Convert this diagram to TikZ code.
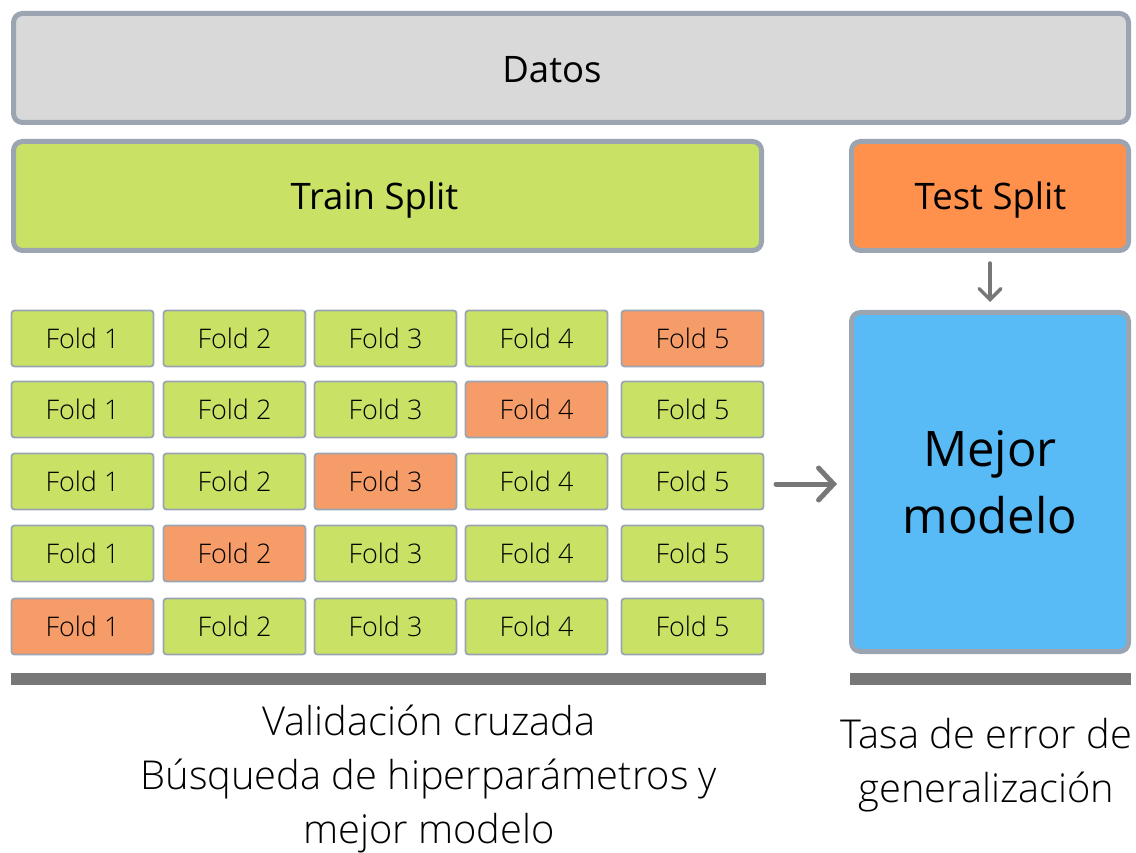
\documentclass[tikz,border=0pt]{standalone}
\usepackage{fontspec}
\setmainfont{Open Sans}
\newfontfamily\lightfont{Open Sans Light}
\usetikzlibrary{arrows.meta}
\definecolor{bordergray}{HTML}{9AA5B1}
\definecolor{datosfill}{HTML}{D9D9D9}
\definecolor{trainfill}{HTML}{C9E265}
\definecolor{testfill}{HTML}{FF914D}
\definecolor{foldorange}{HTML}{F59C69}
\definecolor{bluefill}{HTML}{58BBF6}
\definecolor{darkgray}{HTML}{777777}
\tikzset{
  bigbox/.style={draw=bordergray, line width=5pt, rounded corners=9pt, inner sep=0pt},
  boxtext/.style={anchor=base, font=\fontsize{36.5}{42}\selectfont, inner sep=0pt},
  foldbox/.style={draw=bordergray, line width=1.8pt, rounded corners=3pt, minimum width=142pt, minimum height=56pt, inner sep=0pt, font=\lightfont\fontsize{27}{32}\selectfont},
  green/.style={fill=trainfill},
  orange/.style={fill=foldorange},
  bar/.style={fill=darkgray, draw=none},
  conn/.style={draw=darkgray, line cap=round},
  caption/.style={anchor=base, align=center, font=\lightfont\fontsize{39.8}{54}\selectfont},
}
\begin{document}
\begin{tikzpicture}[x=1pt,y=-1pt]
\useasboundingbox (0,0) rectangle (1136,853);
% top boxes
\node[bigbox, fill=datosfill, minimum width=1115pt, minimum height=109pt] (datos) at (571,68) {};
\node[boxtext] (datostxt) at (552,83) {Datos};
\node[bigbox, fill=trainfill, minimum width=748pt, minimum height=109pt] (train) at (387.5,196) {};
\node[boxtext] (traintxt) at (374.5,210) {Train Split};
\node[bigbox, fill=testfill, minimum width=277pt, minimum height=109pt] (test) at (990,196) {};
\node[boxtext] (testtxt) at (990.5,210) {Test Split};
\node[bigbox, fill=bluefill, minimum width=277pt, minimum height=339pt, align=center, font=\fontsize{49}{67}\selectfont] (mejor) at (990,482) {Mejor\\modelo};
% folds
\foreach \r/\y/\o in {1/338.5/5, 2/409.5/4, 3/481.5/3, 4/553.5/2, 5/626.5/1}{
  \foreach \c/\x in {1/82.5, 2/234.5, 3/385.5, 4/536.5, 5/692.5}{
    \ifnum\c=\o
      \node[foldbox, orange] (f\r\c) at (\x,\y) {Fold \c};
    \else
      \node[foldbox, green] (f\r\c) at (\x,\y) {Fold \c};
    \fi
  }
}
% arrows
\coordinate (arrstart) at (776,484);
\coordinate (arrend) at (837,484);
\draw[conn, line width=5pt, -{Straight Barb[length=15pt,width=32pt,line cap=round]}] (arrstart) -- (arrend);
\draw[conn, line width=3.5pt, -{Straight Barb[length=11pt,width=22pt,line cap=round]}] ([yshift=-10pt]test.south) -- ([yshift=8pt]mejor.north);
% bars
\fill[bar] (11,673) rectangle (766,685);
\fill[bar] (850,673) rectangle (1131,685);
% captions
\node[caption] (cv) at (429,843) {Validación cruzada\\Búsqueda de hiperparámetros y\\mejor modelo};
\node[caption] (gen) at (986.5,802) {Tasa de error de\\generalización};
\end{tikzpicture}
\end{document}
